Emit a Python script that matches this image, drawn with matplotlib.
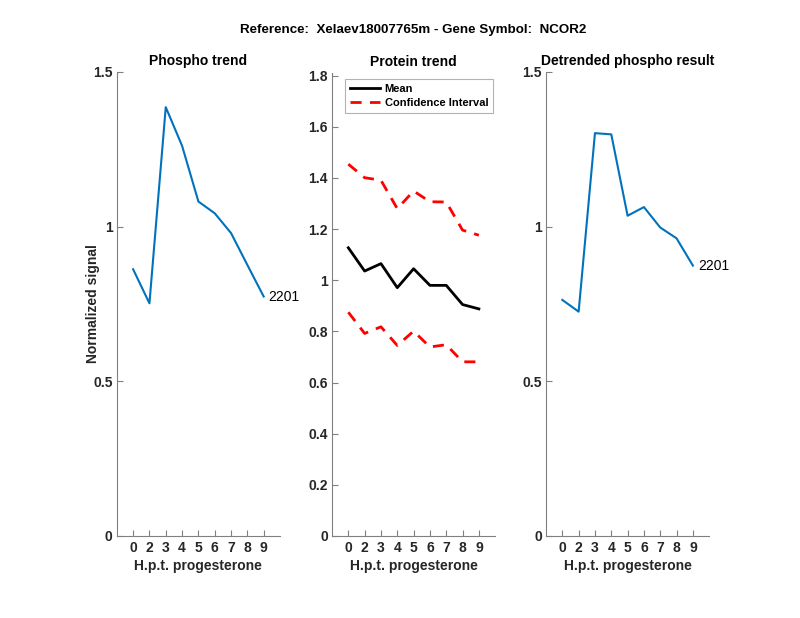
import matplotlib
matplotlib.use("Agg")
import matplotlib.pyplot as plt

plt.rcParams['font.family'] = ['Liberation Sans', 'DejaVu Sans']
plt.rcParams['font.weight'] = 'bold'

time_labels = ['0', '2', '3', '4', '5', '6', '7', '8', '9']
phospho = [0.862, 0.752, 1.386, 1.261, 1.081, 1.043, 0.979, 0.876, 0.774]
protein_mean = [1.127, 1.036, 1.065, 0.971, 1.045, 0.980, 0.980, 0.905, 0.888]
protein_upper = [1.454, 1.401, 1.391, 1.280, 1.349, 1.307, 1.306, 1.196, 1.176]
protein_lower = [0.875, 0.792, 0.818, 0.745, 0.801, 0.739, 0.748, 0.681, 0.681]
detrended = [0.763, 0.725, 1.302, 1.298, 1.035, 1.063, 0.997, 0.962, 0.874]
peptide_label = '2201'

suptitle = 'Reference:  Xelaev18007765m - Gene Symbol:  NCOR2'
titles = ['Phospho trend', 'Protein trend', 'Detrended phospho result']
xlabel = 'H.p.t. progesterone'
ylabel = 'Normalized signal'

blue = '#0072BD'
grey = '#262626'
spine_grey = '#808080'

fig = plt.figure(figsize=(8, 6.18), dpi=100)
pos = list(range(1, len(time_labels) + 1))

ax1 = fig.add_axes([0.146, 0.1327, 0.204, 0.751])
ax2 = fig.add_axes([0.415, 0.1327, 0.204, 0.749])
ax3 = fig.add_axes([0.6825, 0.1327, 0.204, 0.751])

ax1.plot(pos, phospho, color=blue, lw=1.5)
ax1.text(pos[-1] + 0.3, phospho[-1], peptide_label, va='center', ha='left',
         fontsize=10, fontweight='normal', color='black')
ax1.set_ylim(0, 1.5)
ax1.set_yticks([0, 0.5, 1, 1.5])
ax1.set_yticklabels(['0', '0.5', '1', '1.5'])
ax1.set_ylabel(ylabel, fontsize=10, fontweight='bold', color=grey, labelpad=-5)

ax2.plot(pos, protein_mean, color='black', lw=2, label='Mean')
ax2.plot(pos, protein_upper, color='red', lw=2, ls=(0, (4, 3)), label='Confidence Interval')
ax2.plot(pos, protein_lower, color='red', lw=2, ls=(0, (4, 3)))
ax2.set_ylim(0, 1.81)
ax2.set_yticks([0, 0.2, 0.4, 0.6, 0.8, 1.0, 1.2, 1.4, 1.6, 1.8])
ax2.set_yticklabels(['0', '0.2', '0.4', '0.6', '0.8', '1', '1.2', '1.4', '1.6', '1.8'])
leg = ax2.legend(loc='upper left', bbox_to_anchor=(0.08, 0.987),
                 frameon=True, fancybox=False, handlelength=2.7,
                 borderpad=0.45, labelspacing=0.35, handletextpad=0.4,
                 borderaxespad=0, prop={'weight': 'bold', 'size': 8})
leg.get_frame().set_edgecolor('#a0a0a0')
leg.get_frame().set_linewidth(0.8)

ax3.plot(pos, detrended, color=blue, lw=1.5)
ax3.text(pos[-1] + 0.3, detrended[-1], peptide_label, va='center', ha='left',
         fontsize=10, fontweight='normal', color='black')
ax3.set_ylim(0, 1.5)
ax3.set_yticks([0, 0.5, 1, 1.5])
ax3.set_yticklabels(['0', '0.5', '1', '1.5'])

for ax, t in zip([ax1, ax2, ax3], titles):
    ax.set_xlim(0, 10)
    ax.set_xticks(pos)
    ax.set_xticklabels(time_labels)
    ax.set_title(t, fontsize=10, fontweight='bold', pad=5)
    ax.set_xlabel(xlabel, fontsize=10, fontweight='bold', color=grey, labelpad=3)
    ax.spines['top'].set_visible(False)
    ax.spines['right'].set_visible(False)
    for s in ['left', 'bottom']:
        ax.spines[s].set_color(spine_grey)
        ax.spines[s].set_linewidth(0.8)
    ax.tick_params(direction='in', length=4, width=0.8, colors=spine_grey,
                   labelcolor=grey, labelsize=10)
    ax.tick_params(axis='y', pad=3)
    for lab in ax.get_xticklabels() + ax.get_yticklabels():
        lab.set_fontweight('bold')

fig.text(0.517, 0.952, suptitle, fontsize=9.6, fontweight='bold',
         ha='center', va='center')

fig.savefig('out.png', dpi=100, facecolor='white')
